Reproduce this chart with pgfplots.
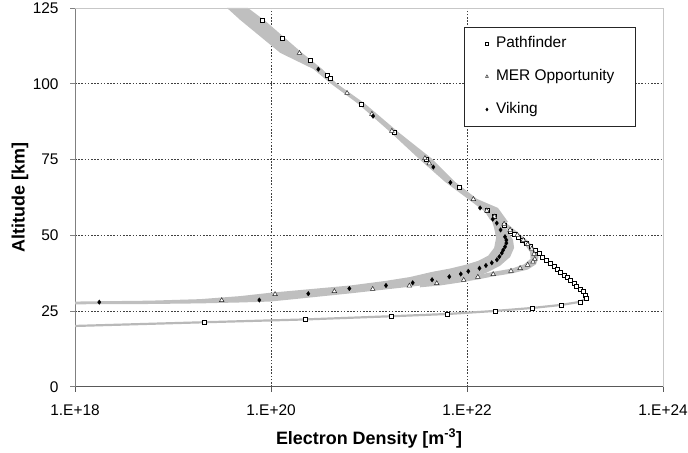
\documentclass[border=0pt]{standalone}
\usepackage{fontspec}
\setmainfont{Liberation Sans}
\usepackage{pgfplots}
\pgfplotsset{compat=1.18}
\begin{document}
\begin{tikzpicture}
\path[use as bounding box] (-75bp,-66.3bp) rectangle (613bp,386.7bp);
\begin{axis}[
  name=ax, at={(0,0)}, anchor=south west,
  scale only axis, width=588bp, height=378.7bp,
  xmode=log, log basis x=10,
  xmin=1e18, xmax=1e24, ymin=0, ymax=125,
  xtick={1e18,1e20,1e22,1e24},
  xticklabels={1.E+18,1.E+20,1.E+22,1.E+24},
  ytick={0,25,50,75,100,125},
  yticklabels={0,25,50,75,100,125},
  minor xtick={1e20,1e22}, minor ytick={25,50,75,100},
  xminorgrids, yminorgrids, minor tick length=0pt,
  minor grid style={black!75, dash pattern=on 1.6bp off 1.6bp, line width=0.6bp},
  axis lines*=left,
  x axis line style={black!65, line width=0.8bp},
  y axis line style={black!50, line width=0.8bp},
  tick align=outside, major tick length=5bp,
  xtick style={black!65, line width=0.8bp},
  ytick style={black!50, line width=0.8bp},
  ticklabel style={font=\fontsize{15.5}{18}\selectfont},
  xticklabel style={yshift=-9bp},
  yticklabel style={xshift=-8bp},
  xlabel={\textbf{Electron Density [m\textsuperscript{-3}]}},
  ylabel={\textbf{Altitude [km]}},
  every axis x label/.style={at={(axis description cs:0.5,-0.1513)}, anchor=base, font=\fontsize{18}{21}\selectfont},
  every axis y label/.style={at={(axis description cs:-0.0935,0.5)}, anchor=center, rotate=90, font=\fontsize{18}{21}\selectfont},
  legend style={at={(0.6616,0.9506)}, anchor=north west, draw=black!85, line width=0.6bp,
    fill=white, font=\fontsize{15.5}{18}\selectfont, inner xsep=21bp, inner ysep=9bp,
    row sep=18bp, nodes={inner sep=0pt, text height=11.5bp, text depth=3.5bp},
    /tikz/every odd column/.append style={column sep=7.5bp}},
  legend cell align=left,
  legend image code/.code={\draw[#1, mark size=1.6pt] plot coordinates {(0bp,0bp)};},
]
% model envelopes
\addplot[fill=gray!50, draw=none, forget plot] coordinates {
(3.56e19,125) (4.83e19,121.1) (1.24e20,110.2) (2.69e20,104.9) (4.09e20,100.0)
(7.73e20,93.4) (1.64e21,84.1) (3.24e21,75.2) (5.97e21,67.6) (1.02e22,62.0)
(1.53e22,57.7) (1.72e22,55.1) (2.17e22,53.1) (2.62e22,54.4) (2.07e22,59.0)
(1.26e22,62.0) (7.55e21,67.6) (4.40e21,75.2) (1.98e21,84.1) (9.10e20,93.4)
(4.71e20,100.0) (3.31e20,104.9) (2.07e20,110.2) (8.69e19,120.8) (5.82e19,125)
(3.56e19,125)};
\addplot[fill=gray!50, draw=none, forget plot] coordinates {
(1.72e22,56.7) (1.89e22,52.4) (1.98e22,49.1) (1.89e22,45.8) (1.64e22,43.2)
(1.29e22,41.5) (9.55e21,40.2) (6.71e21,39.0) (4.40e21,37.9) (2.62e21,36.2)
(1.46e21,34.9) (6.40e20,33.4) (1.98e20,31.9) (9.77e19,31.0) (4.83e19,29.9)
(1.89e19,28.9) (5.82e18,28.4) (1e18,28.1) (1e18,27.2) (5.82e18,27.3)
(1.89e19,27.5) (4.83e19,27.8) (9.77e19,28.1) (1.98e20,29.1) (6.40e20,30.8)
(2.62e21,33.0) (5.30e21,34.1) (9.55e21,35.6) (1.53e22,37.4) (2.17e22,39.9)
(2.75e22,42.8) (3.02e22,45.8) (2.95e22,48.4) (2.56e22,51.8) (2.17e22,55.1)
(1.72e22,56.7)};
\addplot[fill=gray!50, draw=none, forget plot] coordinates {
(2.44e22,54.4) (3.24e22,51.1) (4.19e22,48.1) (4.94e22,45.5) (5.37e22,42.8)
(5.06e22,40.4) (4.19e22,38.7) (2.88e22,37.4) (1.84e22,36.4) (1.29e22,35.4)
(8.49e21,34.4) (5.30e21,33.4) (3.31e21,32.8) (3.31e21,34.1) (5.30e21,34.9)
(8.49e21,35.9) (1.29e22,36.9) (1.84e22,37.9) (2.88e22,39.0) (3.82e22,40.4)
(4.45e22,42.2) (4.40e22,44.5) (3.91e22,46.8) (3.16e22,49.4) (2.50e22,52.4)
(2.07e22,54.4) (2.44e22,54.4)};
\addplot[gray!55, line width=2.2bp, forget plot] coordinates {
(1e18,20.05) (2.07e19,21.27) (2.22e20,22.2) (1.67e21,23.25) (6.35e21,24.0)
(1.92e22,25.0) (4.68e22,26.0) (9.16e22,27.0) (1.42e23,28.0) (1.64e23,29.2)};
% Pathfinder
\addplot[only marks, mark=square*, mark size=2pt, mark options={fill=white, draw=black, line width=0.5bp}] coordinates {
(8.09e19,120.8) (1.31e20,115.1) (2.50e20,107.6) (3.72e20,102.9) (4.00e20,101.8)
(8.34e20,93.3) (1.83e21,84.0) (3.82e21,75.1) (8.34e21,65.7) (1.59e22,58.1)
(1.90e22,56.1) (2.39e22,53.4) (2.79e22,51.4) (3.06e22,50.4) (3.37e22,49.3)
(3.70e22,48.3) (4.06e22,47.2) (4.47e22,46.2) (4.94e22,45.1) (5.43e22,43.9)
(5.92e22,42.7) (6.50e22,41.8) (7.14e22,40.75) (7.72e22,39.9) (8.34e22,38.8)
(9.04e22,37.9) (9.77e22,36.9) (1.05e23,36.0) (1.14e23,35.0) (1.24e23,34.15)
(1.31e23,33.3) (1.42e23,32.3) (1.52e23,31.4) (1.60e23,30.3) (1.64e23,29.2)
(1.42e23,28.0) (9.16e22,27.0) (4.68e22,26.0) (1.92e22,25.0) (6.35e21,24.0)
(1.67e21,23.25) (2.22e20,22.2) (2.07e19,21.3)};
\addlegendentry{Pathfinder}
% MER Opportunity
\addplot[only marks, mark=triangle*, mark size=2.7pt, mark options={fill=white, draw=black!85, line width=0.5bp}] coordinates {
(1.95e20,110.1) (5.97e20,96.9) (1.07e21,90.0) (1.71e21,84.4) (3.72e21,75.4)
(4.12e21,73.7) (1.16e22,61.9) (1.59e22,58.1) (1.90e22,56.1) (2.39e22,53.7)
(2.75e22,51.75) (3.26e22,50.1) (3.75e22,48.4) (4.16e22,47.0) (4.57e22,45.5)
(4.83e22,43.8) (4.91e22,42.1) (4.71e22,41.2) (4.16e22,40.2) (3.48e22,39.1)
(2.81e22,38.2) (1.85e22,37.1) (1.29e22,36.2) (9.25e21,35.2) (4.91e21,34.1)
(2.58e21,33.3) (1.09e21,32.2) (4.43e20,31.5) (1.10e20,30.5) (3.14e19,28.5)};
\addlegendentry{MER Opportunity}
% Viking
\addplot[only marks, mark=diamond*, mark size=2.3pt, mark options={fill=black, draw=black, line width=0.3bp}] coordinates {
(3.04e20,104.8) (1.10e21,89.3) (4.53e21,72.5) (6.76e21,67.4) (1.36e22,59.0)
(1.83e22,55.3) (2.01e22,54.0) (2.20e22,51.75) (2.44e22,49.5) (2.52e22,48.4)
(2.52e22,47.4) (2.44e22,46.2) (2.34e22,45.1) (2.26e22,44.1) (2.14e22,42.9)
(2.02e22,41.9) (1.79e22,40.9) (1.56e22,40.0) (1.34e22,39.1) (1.03e22,38.1)
(8.63e21,37.2) (6.59e21,36.3) (4.40e21,35.3) (2.79e21,34.3) (1.49e21,33.4)
(6.30e20,32.4) (2.40e20,30.7) (7.60e19,28.6) (1.77e18,27.9)};
\addlegendentry{Viking}
\end{axis}
\draw[black!22, line width=0.8bp] (ax.north west) -- (ax.north east) -- (ax.south east);
\end{tikzpicture}
\end{document}
